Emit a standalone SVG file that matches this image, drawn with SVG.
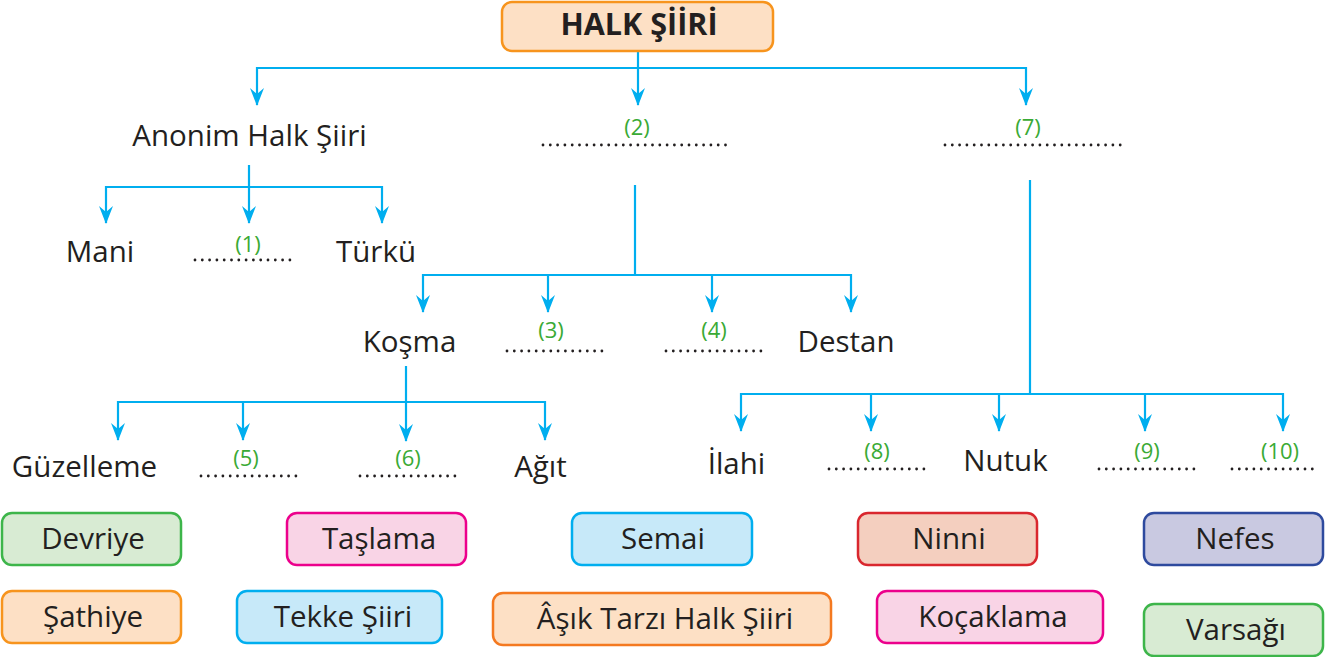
<svg xmlns="http://www.w3.org/2000/svg" width="1342" height="657" viewBox="0 0 1342 657">
<defs>
<style>
.t{font-family:"Open Sans","Liberation Sans",sans-serif;font-size:29.5px;fill:#231f20;text-anchor:middle;}
.n{font-family:"Open Sans","Liberation Sans",sans-serif;font-size:22px;fill:#3aaa35;text-anchor:middle;}
.d{fill:none;stroke:#231f20;stroke-width:2.8;stroke-linecap:round;stroke-dasharray:0 7.3;}
.ln{fill:none;stroke:#00aeef;stroke-width:2.2;}
.ar{fill:none;stroke:#00aeef;stroke-width:2.2;marker-end:url(#ah);}
.bx{stroke-width:2.5;}
.green{fill:#d8ebd3;stroke:#3db54a;}
.pink{fill:#f9d4e6;stroke:#ec008c;}
.blue{fill:#c7e9f9;stroke:#00aeef;}
.red{fill:#f4cfbf;stroke:#d9272e;}
.navy{fill:#c9c9e1;stroke:#2e4a9e;}
.orange{fill:#fde0c5;stroke:#f7941d;}
.orange2{fill:#fde0c5;stroke:#f47920;}
</style>
<marker id="ah" viewBox="0 0 18 14" markerUnits="userSpaceOnUse" markerWidth="18" markerHeight="14" refX="17" refY="7" orient="auto">
<path d="M0,0 L18,7 L0,14 L6,7 Z" fill="#00aeef"/>
</marker>
</defs>
<rect width="1342" height="657" fill="#ffffff"/>

<g id="connectors">
<path class="ln" d="M638,51 V68 M257,68 H1025"/>
<path class="ar" d="M257,67 V105"/>
<path class="ar" d="M638,67 V105"/>
<path class="ar" d="M1026,67 V105"/>

<path class="ln" d="M249,165 V187 M106,187 H382"/>
<path class="ar" d="M106,186 V223"/>
<path class="ar" d="M249,186 V223"/>
<path class="ar" d="M382,186 V223"/>

<path class="ln" d="M635,185 V275 M423,275 H851"/>
<path class="ar" d="M423,274 V312"/>
<path class="ar" d="M548,274 V312"/>
<path class="ar" d="M712,274 V312"/>
<path class="ar" d="M851,274 V312"/>

<path class="ln" d="M118,402 H545"/>
<path class="ar" d="M406,366 V441"/>
<path class="ar" d="M118,401 V440"/>
<path class="ar" d="M243,401 V440"/>
<path class="ar" d="M545,401 V440"/>

<path class="ln" d="M1030,180 V394 M741,394 H1283"/>
<path class="ar" d="M741,393 V431"/>
<path class="ar" d="M871,393 V431"/>
<path class="ar" d="M999,393 V431"/>
<path class="ar" d="M1145,393 V431"/>
<path class="ar" d="M1283,393 V431"/>
</g>

<g id="root">
<rect class="bx orange" x="502" y="2" width="271" height="49" rx="10"/>
<text class="t" x="639" y="35" style="font-weight:bold;font-size:30.5px">HALK ŞİİRİ</text>
</g>

<g id="anonim"><text class="t" x="249.5" y="146">Anonim Halk Şiiri</text></g>
<g id="blank2">
<path class="d" d="M543,145 H732"/>
<text class="n" x="637" y="135">(2)</text>
</g>
<g id="blank7">
<path class="d" d="M945,145 H1124"/>
<text class="n" x="1028" y="135">(7)</text>
</g>

<g id="mani"><text class="t" x="100" y="262">Mani</text></g>
<g id="blank1">
<path class="d" d="M195,260 H294"/>
<text class="n" x="248" y="252">(1)</text>
</g>
<g id="turku"><text class="t" x="376" y="262">Türkü</text></g>

<g id="kosma"><text class="t" x="409.5" y="352">Koşma</text></g>
<g id="blank3">
<path class="d" d="M507,351 H607"/>
<text class="n" x="551" y="338">(3)</text>
</g>
<g id="blank4">
<path class="d" d="M666,351 H766"/>
<text class="n" x="714" y="338">(4)</text>
</g>
<g id="destan"><text class="t" x="846" y="352">Destan</text></g>

<g id="guzelleme"><text class="t" x="84.5" y="477">Güzelleme</text></g>
<g id="blank5">
<path class="d" d="M201,476 H300"/>
<text class="n" x="246" y="466">(5)</text>
</g>
<g id="blank6">
<path class="d" d="M360,476 H459"/>
<text class="n" x="408" y="466">(6)</text>
</g>
<g id="agit"><text class="t" x="540.5" y="477">Ağıt</text></g>

<g id="ilahi"><text class="t" x="736.5" y="474">İlahi</text></g>
<g id="blank8">
<path class="d" d="M829,469 H928"/>
<text class="n" x="877" y="459">(8)</text>
</g>
<g id="nutuk"><text class="t" x="1005.5" y="471">Nutuk</text></g>
<g id="blank9">
<path class="d" d="M1099,469 H1198"/>
<text class="n" x="1147" y="459">(9)</text>
</g>
<g id="blank10">
<path class="d" d="M1232,469 H1317"/>
<text class="n" x="1280" y="459">(10)</text>
</g>

<g id="devriye"><rect class="bx green" x="2" y="513" width="179" height="52" rx="10"/><text class="t" x="93" y="549">Devriye</text></g>
<g id="taslama"><rect class="bx pink" x="287" y="513" width="179" height="52" rx="10"/><text class="t" x="379" y="549">Taşlama</text></g>
<g id="semai"><rect class="bx blue" x="572" y="513" width="180" height="52" rx="10"/><text class="t" x="663" y="549">Semai</text></g>
<g id="ninni"><rect class="bx red" x="858" y="513" width="179" height="52" rx="10"/><text class="t" x="949" y="549">Ninni</text></g>
<g id="nefes"><rect class="bx navy" x="1144" y="513" width="179" height="52" rx="10"/><text class="t" x="1235" y="549">Nefes</text></g>

<g id="sathiye"><rect class="bx orange" x="2" y="591" width="179" height="52" rx="10"/><text class="t" x="93" y="627">Şathiye</text></g>
<g id="tekke"><rect class="bx blue" x="237" y="591" width="205" height="52" rx="10"/><text class="t" x="343" y="627">Tekke Şiiri</text></g>
<g id="asik"><rect class="bx orange2" x="493" y="593" width="338" height="52" rx="10"/><text class="t" x="665" y="629">Âşık Tarzı Halk Şiiri</text></g>
<g id="kocaklama"><rect class="bx pink" x="877" y="591" width="226" height="52" rx="10"/><text class="t" x="993" y="627">Koçaklama</text></g>
<g id="varsagi"><rect class="bx green" x="1144" y="604" width="179" height="52" rx="10"/><text class="t" x="1236" y="640">Varsağı</text></g>
</svg>
